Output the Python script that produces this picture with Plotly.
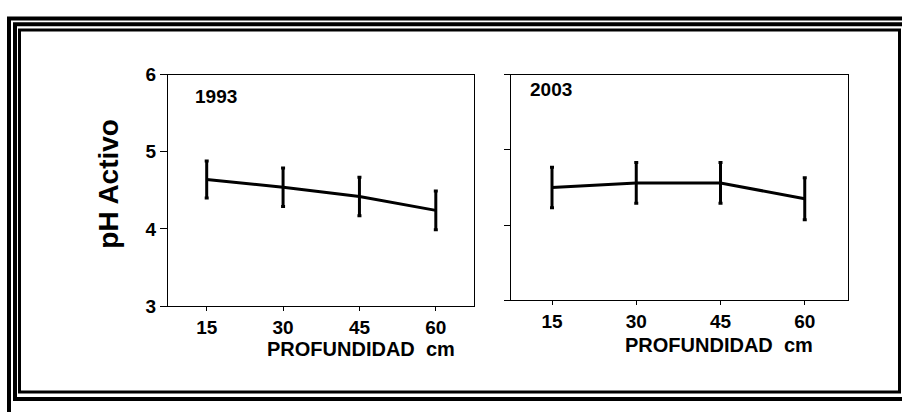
import plotly.graph_objects as go

# Soil active pH by sampling depth, two survey years
depth = [15, 30, 45, 60]
depth_ticks = ["15", "30", "45", "60"]
ph_1993 = [4.64, 4.54, 4.42, 4.24]
err_1993 = [0.24, 0.25, 0.25, 0.25]
ph_2003 = [4.50, 4.56, 4.56, 4.35]
err_2003 = [0.27, 0.27, 0.27, 0.28]
ph_ticks = [3, 4, 5, 6]

W, H = 902, 412


def px(x):
    return x / W


def py(y):
    return 1 - y / H


FONT = "Liberation Sans, Arial, sans-serif"

fig = go.Figure()

for ph, err, xa, ya in [(ph_1993, err_1993, "x", "y"), (ph_2003, err_2003, "x2", "y2")]:
    fig.add_trace(go.Scatter(
        x=depth, y=ph, mode="lines",
        line=dict(color="black", width=3),
        error_y=dict(type="data", array=err, visible=True,
                     color="black", thickness=3, width=2),
        xaxis=xa, yaxis=ya, showlegend=False, hoverinfo="skip",
    ))

axis_common = dict(
    showgrid=False, zeroline=False, showline=True, linecolor="black",
    linewidth=1, mirror=True, ticks="outside", tickcolor="black",
    tickfont=dict(family=FONT, size=19, color="black", weight="bold"),
)

fig.update_layout(
    width=W, height=H,
    margin=dict(l=0, r=0, t=0, b=0),
    paper_bgcolor="white", plot_bgcolor="white",
    xaxis=dict(domain=[px(168), px(474)], range=[7.4, 67.5],
               tickvals=depth, ticktext=depth_ticks, ticklen=4,
               anchor="y", **axis_common),
    yaxis=dict(domain=[py(312), py(68)], range=[3, 6],
               tickvals=ph_ticks, ticklen=7, anchor="x", **axis_common),
    xaxis2=dict(domain=[px(511), px(848)], range=[7.7, 67.7],
                tickvals=depth, ticktext=depth_ticks, ticklen=4,
                anchor="y2", **axis_common),
    yaxis2=dict(domain=[py(306), py(68)], range=[3, 6],
                tickvals=ph_ticks, ticklen=6, showticklabels=False,
                anchor="x2", **axis_common),
)

title_font = dict(family=FONT, size=20, color="black", weight="bold")
label_font = dict(family=FONT, size=19, color="black", weight="bold")

annotations = [
    dict(text="pH Activo", x=px(109), y=py(183), textangle=-90,
         font=dict(family=FONT, size=28, color="black", weight="bold")),
    dict(text="PROFUNDIDAD\u00a0\u00a0cm", x=px(361), y=py(357), font=title_font),
    dict(text="PROFUNDIDAD\u00a0\u00a0cm", x=px(719), y=py(353), font=title_font),
    dict(text="1993", x=px(216), y=py(91), font=label_font),
    dict(text="2003", x=px(551), y=py(84), font=label_font),
]
for a in annotations:
    fig.add_annotation(xref="paper", yref="paper", showarrow=False,
                       xanchor="center", yanchor="middle", **a)

# Triple-line decorative frame around the figure
frame = [
    (9, 9, 930, 440, 4),
    (15, 15, 925, 410, 4),
    (19.5, 21, 899.5, 402.5, 3),
]
for x0, y0, x1, y1, w in frame:
    fig.add_shape(type="rect", xref="paper", yref="paper",
                  x0=px(x0), y0=py(y0), x1=px(x1), y1=py(y1),
                  line=dict(color="black", width=w), layer="above")

fig.write_html("out.html")
